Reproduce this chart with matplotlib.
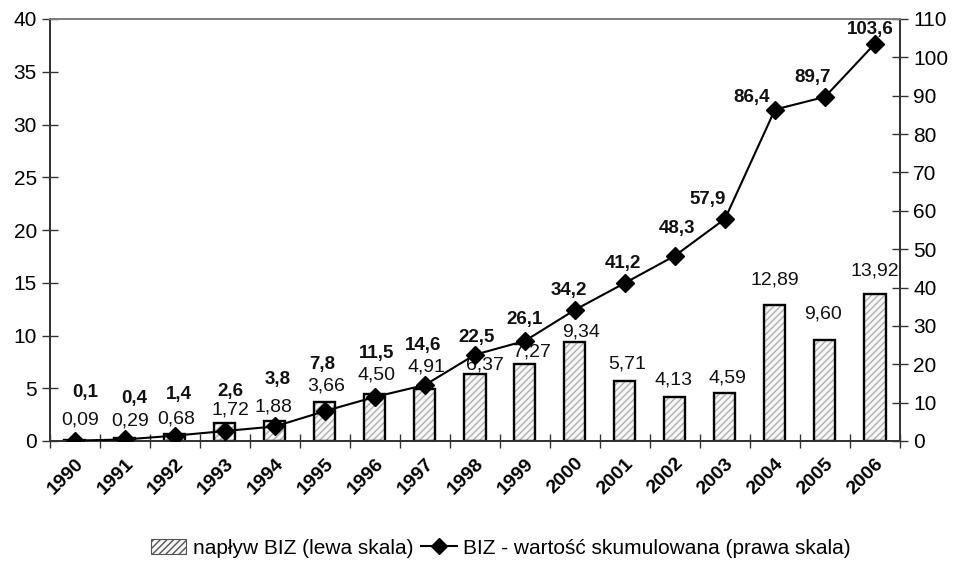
import matplotlib
matplotlib.use("Agg")
import matplotlib.pyplot as plt
from matplotlib.ticker import FixedLocator, MultipleLocator
from matplotlib.patches import Patch
from matplotlib.lines import Line2D
from matplotlib.transforms import ScaledTranslation
import numpy as np

plt.rcParams['font.family'] = ['Liberation Sans', 'DejaVu Sans']
plt.rcParams['hatch.linewidth'] = 1.0

years = ['1990', '1991', '1992', '1993', '1994', '1995', '1996', '1997', '1998',
         '1999', '2000', '2001', '2002', '2003', '2004', '2005', '2006']
inflow = [0.09, 0.29, 0.68, 1.72, 1.88, 3.66, 4.50, 4.91, 6.37, 7.27, 9.34,
          5.71, 4.13, 4.59, 12.89, 9.60, 13.92]
cumulative = [0.1, 0.4, 1.4, 2.6, 3.8, 7.8, 11.5, 14.6, 22.5, 26.1, 34.2,
              41.2, 48.3, 57.9, 86.4, 89.7, 103.6]

# label offsets (pixels) as placed in the original
bar_lab_dx = [5, 5, 1, 5, -2, 1, 2, 1, 10, 7, 6, 2, -1, 2, 0, -2, 0]
bar_lab_dy = [20, 17, 15, 13, 14, 16, 19, 22, 9, 12, 10, 17, 17, 15, 25, 26, 23]
cum_lab_dx = [10, 9, 4, 5, 3, -3, 2, -2, 2, 0, -6, -2, 2, -17, -23, -12, -5]
cum_lab_dy = [48, 41, 41, 40, 47, 47, 43, 39, 17, 21, 19, 19, 27, 19, 12, 19, 14]

fig = plt.figure(figsize=(9.54, 5.70), dpi=100)
ax = fig.add_axes([50/954, 1-441/570, 850/954, 422/570])
ax2 = ax.twinx()

x = np.arange(len(years))
ax.bar(x, inflow, width=0.42, color='#f6f6f6', edgecolor='#b0b0b0',
       hatch='/////', linewidth=0, zorder=2)
ax.bar(x, inflow, width=0.42, fill=False, edgecolor='black', linewidth=1.7, zorder=3)

for i, v in enumerate(inflow):
    ax.annotate(f"{v:.2f}".replace('.', ','), (x[i], v),
                xytext=(bar_lab_dx[i], bar_lab_dy[i]), textcoords='offset pixels',
                ha='center', va='center', fontsize=14, color='#111111', zorder=4)

ax2.plot(x, cumulative, color='black', linewidth=1.5, marker='D',
         markersize=9.5, zorder=5)
for i, v in enumerate(cumulative):
    ax2.annotate(f"{v:.1f}".replace('.', ','), (x[i], v),
                 xytext=(cum_lab_dx[i], cum_lab_dy[i]), textcoords='offset pixels',
                 ha='center', va='center', fontsize=13.5, fontweight='bold',
                 color='#111111', zorder=6)

ax.set_xlim(-0.5, len(years) - 0.5)
ax.set_ylim(0, 40)
ax2.set_ylim(0, 110)
ax.yaxis.set_major_locator(MultipleLocator(5))
ax2.yaxis.set_major_locator(MultipleLocator(10))

ax.set_xticks(x)
ax.set_xticklabels(years, rotation=45, ha='right', rotation_mode='anchor',
                   fontsize=14, fontweight='bold')
shift = ScaledTranslation(-7/100, 0, fig.dpi_scale_trans)
for lab in ax.get_xticklabels():
    lab.set_transform(lab.get_transform() + shift)
ax.tick_params(axis='x', which='major', length=0, pad=10)
ax.xaxis.set_minor_locator(FixedLocator(np.arange(-0.5, len(years), 1.0)))
ax.tick_params(axis='x', which='minor', direction='inout', length=10, width=1,
               color='#333333')
ax.tick_params(axis='y', direction='inout', length=11, width=1, color='#333333',
               labelsize=15, pad=4)
ax2.tick_params(axis='y', direction='inout', length=11, width=1, color='#333333',
                labelsize=15, pad=4)

for a in (ax, ax2):
    a.spines['top'].set_color('#808080')
    a.spines['top'].set_linewidth(1.3)
    for s in ('left', 'right', 'bottom'):
        a.spines[s].set_color('#333333')
        a.spines[s].set_linewidth(1.3)

h1 = Patch(facecolor='#f6f6f6', edgecolor='#555555', hatch='/////', linewidth=0.8)
h2 = Line2D([], [], color='black', linewidth=1.5, marker='D', markersize=8)
fig.legend([h1, h2], ['napływ BIZ (lewa skala)', 'BIZ - wartość skumulowana (prawa skala)'],
           loc='center', bbox_to_anchor=(0.525, 1 - 548/570), ncol=2, frameon=False,
           fontsize=15, handlelength=1.7, handleheight=0.7, handletextpad=0.3,
           columnspacing=0.4)

fig.savefig('out.png', dpi=100)
